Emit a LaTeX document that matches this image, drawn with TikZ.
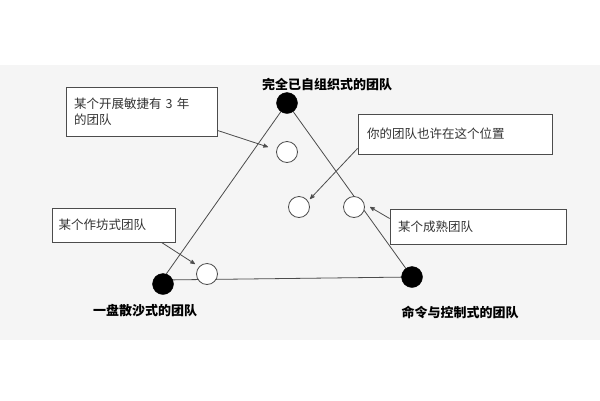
\documentclass[tikz,border=0pt]{standalone}
\usepackage{fontspec}
\newfontfamily\cjk{Noto Sans CJK SC}
\usetikzlibrary{arrows,positioning}
\begin{document}
\begin{tikzpicture}[x=1pt,y=-1pt,>=stealth',font=\cjk\fontsize{12.5}{16}\selectfont,
  corner/.style={circle,fill=black,draw=black,minimum size=21pt,inner sep=0pt},
  team/.style={circle,draw=black!70,line width=0.8pt,fill=white,minimum size=21pt,inner sep=0pt},
  note/.style={draw=black!70,thick,fill=white,align=left,inner sep=0pt,text=black!80},
  tag/.style={font=\cjk\bfseries\fontsize{13}{15}\selectfont}]
        \useasboundingbox (0,0) rectangle (600,400);
        \fill[black!4] (0,65) rectangle (600,340);
        % triangle
        \coordinate (top) at (287,103);
        \coordinate (left) at (162,280);
        \coordinate (right) at (412,277);
        \draw[black!70, line width=0.8pt] (top) -- (left) -- (right) -- cycle;
        \node[corner] (ctop) at (top) {};
        \node[corner] (cleft) at (163,284) {};
        \node[corner] (cright) at (right) {};
        \node[tag] (ltop) at (327,84) {完全已自组织式的团队};
        \node[tag] (lleft) at (145,311) {一盘散沙式的团队};
        \node[tag] (lright) at (460,312) {命令与控制式的团队};

        \node[team] (agile) at (287,152) {};
        \node[team] (yours) at (299,207) {};
        \node[team] (mature) at (354,207) {};
        \node[team] (shop) at (207,274) {};

        \node[note, minimum width=151pt, minimum height=49pt, text width=135pt] (nagile) at (141.5,111.5) {某个开展敏捷有 3 年\\的团队};
        \node[note, minimum width=123pt, minimum height=34pt, text width=110pt] (nshop) at (113.5,225) {某个作坊式团队};
        \node[note, minimum width=194pt, minimum height=40pt, text width=176pt] (nyours) at (455,134) {你的团队也许在这个位置};
        \node[note, minimum width=176pt, minimum height=35pt, text width=160pt] (nmature) at (478,226.5) {某个成熟团队};

        \draw[->, black!70, line width=0.8pt] (nagile.south east) ++(0,-6) -- (268,147);
        \draw[->, black!70, line width=0.8pt] (nshop.south) ++(48,0) -- (195,264);
        \draw[->, black!70, line width=0.8pt] (nyours.south west) ++(0,-6) -- (310,199);
        \draw[->, black!70, line width=0.8pt] (nmature.west) ++(0,-8) -- (370,207);
\end{tikzpicture}
\end{document}
